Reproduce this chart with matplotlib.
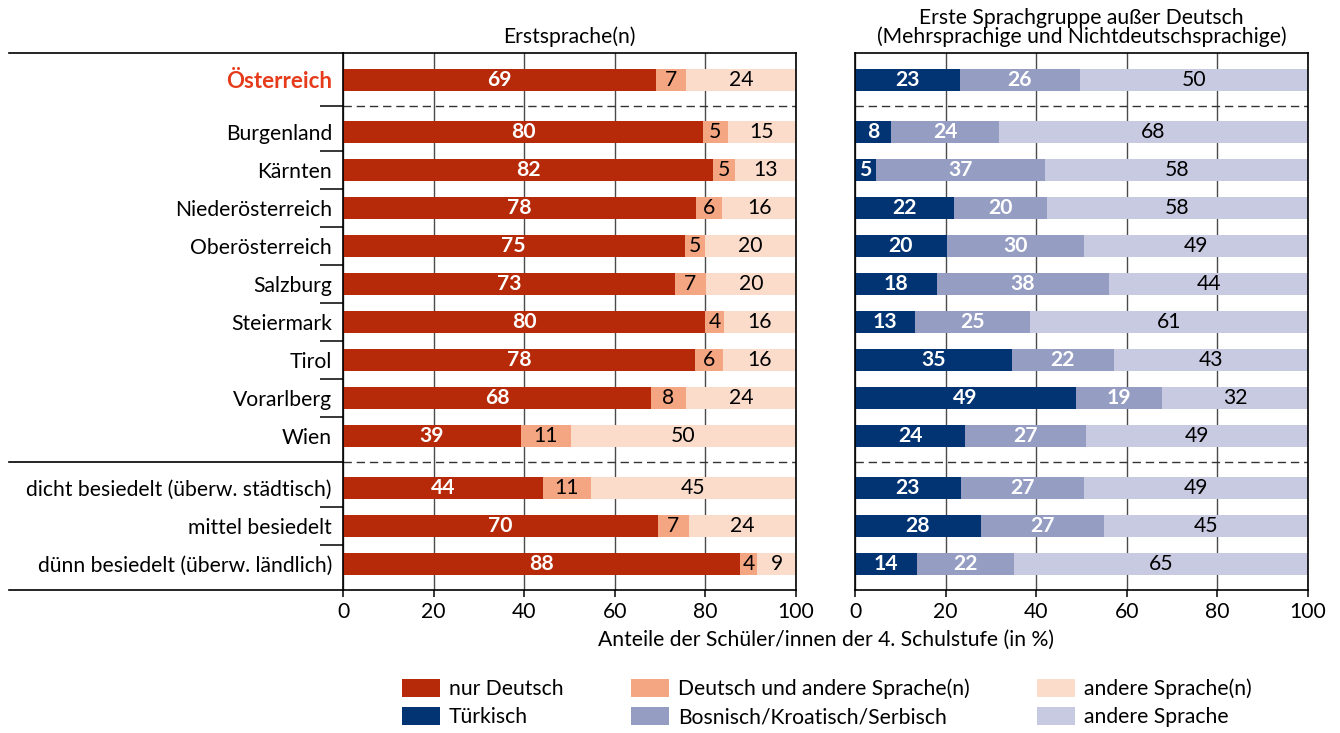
import matplotlib
matplotlib.use("Agg")
import matplotlib.pyplot as plt
from matplotlib.patches import Patch
from matplotlib.transforms import blended_transform_factory
import numpy as np

# ---------------- data ----------------
regions = ["Österreich", "Burgenland", "Kärnten", "Niederösterreich",
           "Oberösterreich", "Salzburg", "Steiermark", "Tirol", "Vorarlberg",
           "Wien", "dicht besiedelt (überw. städtisch)", "mittel besiedelt",
           "dünn besiedelt (überw. ländlich)"]
group_sizes = [1, 9, 3]

# Erstsprache(n)
nur_deutsch = [69.1, 79.5, 81.7, 77.9, 75.4, 73.3, 79.9, 77.7, 68.0, 39.3, 44.1, 69.6, 87.6]
deutsch_und_andere = [6.6, 5.4, 4.9, 5.8, 4.6, 6.8, 4.2, 6.2, 7.7, 11.0, 10.6, 6.7, 3.8]
andere_sprachen = [24.3, 15.1, 13.4, 16.3, 20.0, 19.9, 15.9, 16.1, 24.3, 49.7, 45.3, 23.7, 8.6]

# Erste Sprachgruppe außer Deutsch
tuerkisch = [23.2, 8.0, 4.6, 21.9, 20.3, 18.1, 13.2, 34.7, 48.8, 24.3, 23.3, 27.8, 13.6]
bks = [26.4, 23.8, 37.4, 20.4, 30.3, 38.0, 25.4, 22.4, 19.0, 26.6, 27.3, 27.2, 21.6]
andere_sprache = [50.4, 68.2, 58.0, 57.7, 49.4, 43.9, 61.4, 42.9, 32.2, 49.1, 49.4, 45.0, 64.8]

xticks = [0, 20, 40, 60, 80, 100]

title_left = "Erstsprache(n)"
title_right = "Erste Sprachgruppe außer Deutsch\n(Mehrsprachige und Nichtdeutschsprachige)"
xlabel = "Anteile der Schüler/innen der 4. Schulstufe (in %)"
legend_left = ["nur Deutsch", "Deutsch und andere Sprache(n)", "andere Sprache(n)"]
legend_right = ["Türkisch", "Bosnisch/Kroatisch/Serbisch", "andere Sprache"]

# ---------------- style ----------------
plt.rcParams['font.family'] = ['Lato', 'DejaVu Sans']
FS = 15.2
C_RED = "#B72A09"
C_SALMON = "#F4A582"
C_PEACH = "#FBDCCB"
C_NAVY = "#023473"
C_BLUE = "#959DC3"
C_LAV = "#C8CAE2"
C_HI = "#E63B1B"

W, H = 1340, 733
fig = plt.figure(figsize=(W / 100, H / 100), dpi=100)
axL = fig.add_axes([343 / W, 1 - 590 / H, 453 / W, 537 / H])
axR = fig.add_axes([855 / W, 1 - 590 / H, 453 / W, 537 / H])

# row positions with gaps between groups
GAP = 0.37
pos = []
p = 0.0
group_bounds = []
for n in group_sizes:
    start = len(pos)
    for _ in range(n):
        pos.append(p)
        p += 1
    group_bounds.append((start, len(pos) - 1))
    p += GAP
pos = np.array(pos)

separators = [(pos[group_bounds[i][1]] + pos[group_bounds[i + 1][0]]) / 2
              for i in range(len(group_bounds) - 1)]
inner_bounds = []
for s, e in group_bounds:
    for i in range(s, e):
        inner_bounds.append((pos[i] + pos[i + 1]) / 2)


def panel(ax, series, colors, tcolors, weights):
    left = np.zeros(len(pos))
    for vals, c, tc, w in zip(series, colors, tcolors, weights):
        vals = np.array(vals)
        ax.barh(pos, vals, left=left, height=0.6, color=c, zorder=2, linewidth=0)
        for y, v, l in zip(pos, vals, left):
            ax.text(l + v / 2, y, f"{v:.0f}", ha='center', va='center',
                    color=tc, fontweight=w, fontsize=FS, zorder=3)
        left += vals
    ax.set_xlim(0, 100)
    ax.set_ylim(pos[-1] + 0.685, pos[0] - 0.71)
    ax.set_xticks(xticks)
    ax.set_axisbelow(True)
    ax.grid(axis='x', color='#4a4a4a', lw=1.0, zorder=0)
    for sp in ax.spines.values():
        sp.set_linewidth(1.2)
        sp.set_color('black')
        sp.set_zorder(4)
    for s in separators:
        ax.axhline(s, color='#333333', lw=1.0, ls=(0, (6, 3.5)), zorder=1.5)
    ax.tick_params(axis='x', length=5, width=1.1, labelsize=FS, pad=4)


panel(axL, [nur_deutsch, deutsch_und_andere, andere_sprachen],
      [C_RED, C_SALMON, C_PEACH], ['white', 'black', 'black'],
      ['bold', 'normal', 'normal'])
panel(axR, [tuerkisch, bks, andere_sprache],
      [C_NAVY, C_BLUE, C_LAV], ['white', 'white', 'black'],
      ['bold', 'bold', 'normal'])

# y labels on left panel
axL.set_yticks(pos, regions)
axL.tick_params(axis='y', which='major', length=0, pad=8, labelsize=FS)
tl = axL.get_yticklabels()
tl[0].set_color(C_HI)
tl[0].set_fontweight('bold')
tl[0].set_fontsize(FS + 0.8)
axL.set_yticks(inner_bounds + separators[:1], minor=True)
axL.tick_params(axis='y', which='minor', length=16.5, width=1.1, color='black')
axR.set_yticks([])

# extended lines to the left
ext = (9 - 343) / 453
axL.plot([ext, 0], [1, 1], transform=axL.transAxes, clip_on=False, color='black', lw=1.2)
axL.plot([ext, 0], [0, 0], transform=axL.transAxes, clip_on=False, color='black', lw=1.2)
bt = blended_transform_factory(axL.transAxes, axL.transData)
for s in separators[1:]:
    axL.plot([ext, 0], [s, s], transform=bt, clip_on=False, color='black', lw=1.2)

axL.set_title(title_left, fontsize=FS, pad=7)
axR.set_title(title_right, fontsize=FS, pad=7, linespacing=0.95)

fig.text(825.5 / W, 1 - 640 / H, xlabel, ha='center', va='center', fontsize=FS)

# legend
handles = []
labels = []
for cl, ll, cr, lr in zip([C_RED, C_SALMON, C_PEACH], legend_left,
                          [C_NAVY, C_BLUE, C_LAV], legend_right):
    handles += [Patch(facecolor=cl, edgecolor='none'), Patch(facecolor=cr, edgecolor='none')]
    labels += [ll, lr]
fig.legend(handles, labels, ncol=3, loc='center', bbox_to_anchor=(827 / W, 1 - 703 / H),
           frameon=False, fontsize=FS, handlelength=1.8, handleheight=0.95,
           handletextpad=0.42, columnspacing=3.2, labelspacing=0.35)

fig.savefig("out.png", dpi=100)
